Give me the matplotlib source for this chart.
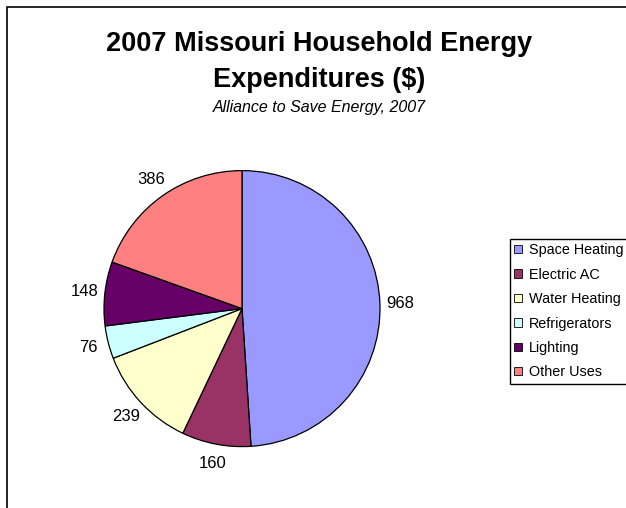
import matplotlib.pyplot as plt
from matplotlib.patches import Rectangle

plt.rcParams['font.family'] = ['Liberation Sans', 'DejaVu Sans']

categories = ["Space Heating", "Electric AC", "Water Heating",
              "Refrigerators", "Lighting", "Other Uses"]
values = [968, 160, 239, 76, 148, 386]
colors = ["#9999FF", "#993366", "#FFFFCC", "#CCFFFF", "#660066", "#FF8080"]

title_lines = ["2007 Missouri Household Energy", "Expenditures ($)"]
subtitle = "Alliance to Save Energy, 2007"

W, H = 626, 508
fig = plt.figure(figsize=(W / 100, H / 100), dpi=100)
ax = fig.add_axes([0, 0, 1, 1])

# chart area border (runs off the right and bottom edges)
ax.add_patch(Rectangle((6.5, -10), W + 20, H - 6.5 + 10, fill=False,
                       edgecolor="black", linewidth=1.2))

wedges, texts = ax.pie(
    values,
    colors=colors,
    labels=[str(v) for v in values],
    labeldistance=1.145,
    startangle=90,
    counterclock=False,
    center=(242, H - 308.6),
    radius=138,
    wedgeprops=dict(edgecolor="black", linewidth=0.9),
    textprops=dict(fontsize=12, color="black"),
    frame=True,
)
ax.set_xlim(0, W)
ax.set_ylim(0, H)
ax.set_aspect("equal")
ax.axis("off")
for t in texts:
    t.set_horizontalalignment("center")
    t.set_verticalalignment("center")

for line, y in zip(title_lines, [50.7, 87]):
    fig.text(319 / W, 1 - y / H, line, ha="center", va="baseline",
             fontsize=19.5, fontweight="bold")
fig.text(319 / W, 1 - 112 / H, subtitle, ha="center", va="baseline",
         fontsize=11.5, style="italic")

leg = fig.legend(wedges, categories, loc="upper left",
                 bbox_to_anchor=(510 / W, 1 - 239 / H),
                 fontsize=10.4, frameon=True, fancybox=False,
                 edgecolor="black", framealpha=1,
                 handlelength=0.5, handleheight=0.5, handletextpad=0.5,
                 labelspacing=0.72, borderpad=0.3, borderaxespad=0)
leg.get_frame().set_linewidth(1.0)
for h in leg.legend_handles:
    h.set_edgecolor("black")
    h.set_linewidth(0.6)

fig.savefig("out.png", dpi=100)
